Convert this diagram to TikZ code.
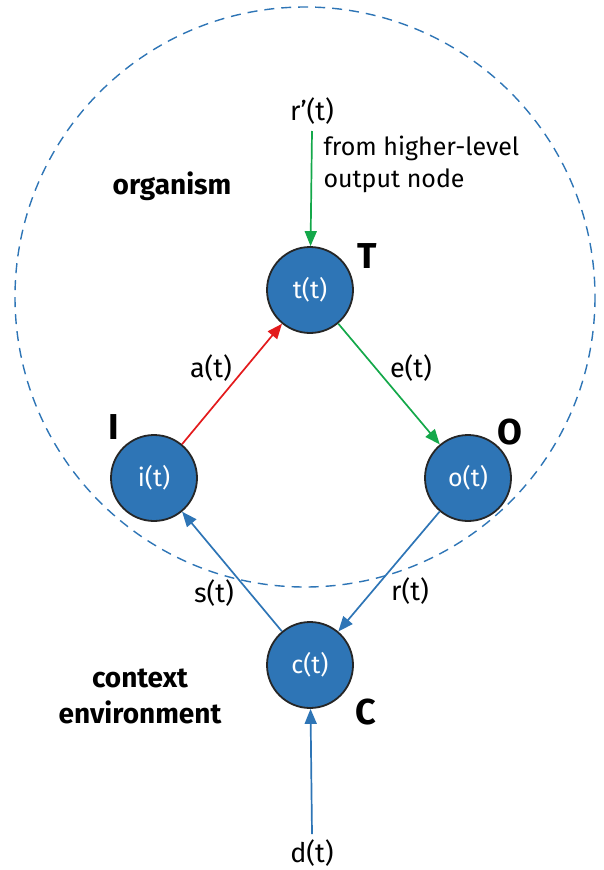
\documentclass[tikz,border=0pt]{standalone}
\usepackage{fontspec}
\setmainfont{Fira Sans}
\usetikzlibrary{arrows.meta}
\definecolor{nodeblue}{HTML}{2E75B6}
\definecolor{edgeblue}{HTML}{2E75B6}
\definecolor{edgered}{HTML}{E31A1C}
\definecolor{edgegreen}{HTML}{14A84A}
\begin{document}
\begin{tikzpicture}[x=1pt,y=-1pt,
  unit/.style={circle,draw=black!85,line width=1.8pt,fill=nodeblue,minimum size=86pt,inner sep=0pt,text=white,font=\fontsize{25}{28}\selectfont},
  big/.style={font=\fontsize{36}{40}\selectfont\bfseries},
  lbl/.style={font=\fontsize{27}{30}\selectfont},
  bold/.style={font=\fontsize{28}{36}\selectfont\bfseries,align=center},
  conn/.style={line width=1.7pt,-{Triangle[length=15pt,width=12pt]}}]
\useasboundingbox (0,0) rectangle (604,870);
\draw[edgeblue,dash pattern=on 10pt off 7pt,line width=1.4pt] (305,297) circle (290);
\node[unit] (T) at (310,290) {t(t)};
\node[unit] (I) at (154,478) {i(t)};
\node[unit] (O) at (468,478) {o(t)};
\node[unit] (C) at (310,665) {c(t)};
\node[big] (lT) at (367,256) {T};
\node[big] (lI) at (114,427) {I};
\node[big] (lO) at (510,432) {O};
\node[big] (lC) at (366,712) {C};
\node[lbl] (rp) at (312,111) {r\char"27(t)};
\coordinate (rps) at (312,131);
\node[lbl,align=left,anchor=west,font=\fontsize{25}{32}\selectfont] (from) at (320,164) {from higher-level\\output node};
\node[bold] (org) at (172,186) {organism};
\node[bold] (ctx) at (140,696) {context\\environment};
\node[lbl] (a) at (211,368) {a(t)};
\node[lbl] (e) at (411,368) {e(t)};
\node[lbl] (s) at (214,593) {s(t)};
\node[lbl] (r) at (410,591) {r(t)};
\node[lbl] (d) at (312,853) {d(t)};
\coordinate (ds) at (312,834);
\draw[conn,edgegreen] (rps) -- (T);
\draw[conn,edgered] (I) -- (T);
\draw[conn,edgegreen] (T) -- (O);
\draw[conn,edgeblue] (O) -- (C);
\draw[conn,edgeblue] (C) -- (I);
\draw[conn,edgeblue] (ds) -- (C);
\end{tikzpicture}
\end{document}
